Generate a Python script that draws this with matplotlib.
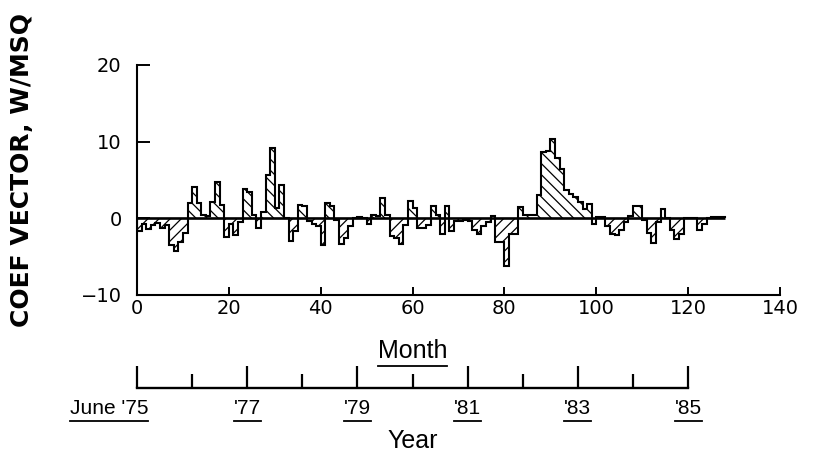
import numpy as np
import matplotlib.pyplot as plt
from matplotlib.lines import Line2D
from matplotlib.transforms import offset_copy

# monthly coefficient values, W/MSQ, month 0 = June '75
coef = [-1.7, -0.8, -1.4, -0.9, -0.6, -1.3, -0.9, -3.5, -4.3, -3.1,
        -1.9, 2.0, 4.1, 2.0, 0.4, 0.3, 2.1, 4.7, 1.8, -2.4,
        -0.7, -2.2, -0.5, 3.8, 3.5, 0.4, -1.3, 0.8, 5.6, 9.2,
        1.3, 4.4, 0.1, -2.9, -1.7, 1.8, 1.6, -0.3, -0.8, -1.0,
        -3.5, 2.0, 1.6, -0.2, -3.3, -2.6, -1.0, 0.1, 0.2, 0.0,
        -0.8, 0.5, 0.3, 2.7, 0.5, -2.3, -2.6, -3.4, -0.9, 2.2,
        1.3, -1.3, -1.3, -0.9, 1.6, 0.5, -2.0, 1.6, -1.6, -0.4,
        -0.3, -0.2, -0.3, -1.5, -2.0, -1.0, -0.5, 0.3, -3.1, -3.1,
        -6.2, -2.0, -2.0, 1.5, 0.5, 0.5, 0.5, 3.0, 8.6, 8.8,
        10.4, 7.9, 6.4, 3.7, 3.2, 2.8, 2.1, 1.2, 1.9, -0.8,
        0.2, 0.2, -1.0, -2.0, -2.2, -1.5, -0.5, 0.3, 1.6, 1.6,
        -0.2, -1.9, -3.2, -0.5, 1.2, 0.0, -1.5, -2.7, -2.0, 0.1,
        0.1, 0.0, -1.5, -0.8, 0.1, 0.2, 0.2, 0.2]

month_ticks = [0, 20, 40, 60, 80, 100, 120, 140]
y_ticks = [-10, 0, 10, 20]
year_major = [0, 24, 48, 72, 96, 120]
year_minor = [12, 36, 60, 84, 108]
year_labels = ["June '75", "'77", "'79", "'81", "'83", "'85"]

vals = np.array(coef)
edges = np.arange(len(vals) + 1)

plt.rcParams['hatch.linewidth'] = 0.9

fig = plt.figure(figsize=(8.17, 4.59), dpi=100)
W, H = 817, 459
ax = fig.add_axes([137 / W, 1 - 295 / H, 643 / W, 230 / H])

# hatched areas: positive one way, negative the other
ax.stairs(np.clip(vals, 0, None), edges, baseline=0, fill=True,
          facecolor='white', edgecolor='black', hatch='\\\\\\', linewidth=0)
ax.stairs(np.clip(vals, None, 0), edges, baseline=0, fill=True,
          facecolor='white', edgecolor='black', hatch='///', linewidth=0)
ax.stairs(vals, edges, baseline=0, fill=False, color='black', linewidth=1.5)
ax.hlines(0, edges[0], edges[-1], color='black', linewidth=1.9)

ax.set_xlim(0, 140)
ax.set_ylim(-10, 20)
ax.set_xticks(month_ticks)
ax.set_yticks(y_ticks)
for s in ['top', 'right']:
    ax.spines[s].set_visible(False)
for s in ['left', 'bottom']:
    ax.spines[s].set_linewidth(1.5)
ax.tick_params(axis='both', direction='in', width=1.4, labelsize=14)
ax.tick_params(axis='x', length=6, pad=3)
ax.tick_params(axis='y', length=9, pad=11)

fig.text(22 / W, 1 - 170 / H, 'COEF VECTOR, W/MSQ', rotation=90,
         ha='center', va='center', fontsize=18, fontweight='bold')

under = []
under.append(ax.text(60, -10, 'Month', transform=offset_copy(ax.transData, fig, y=-40, units='points'),
                     ha='center', va='center', fontsize=18, family='Liberation Sans'))

# year scale under the month axis
ax2 = fig.add_axes([137 / W, 1 - 388 / H, 643 / W, 0.04])
ax2.set_xlim(0, 140)
ax2.set_ylim(0, 1)
ax2.patch.set_visible(False)
for s in ['top', 'right', 'left']:
    ax2.spines[s].set_visible(False)
ax2.spines['bottom'].set_bounds(year_major[0], year_major[-1])
ax2.spines['bottom'].set_linewidth(1.7)
ax2.set_yticks([])
ax2.set_xticks(year_major)
ax2.set_xticks(year_minor, minor=True)
ax2.tick_params(which='major', direction='in', length=16, width=1.6, labelbottom=False)
ax2.tick_params(which='minor', direction='in', length=10, width=1.6)

tr = offset_copy(ax2.get_xaxis_transform(), fig, y=-8, units='points')
for m, lab in zip(year_major, year_labels):
    if m == year_major[0]:
        t = ax2.text(m + 2.4, 0, lab, transform=tr, ha='right', va='top',
                     fontsize=15, family='Liberation Sans')
    else:
        t = ax2.text(m, 0, lab, transform=tr, ha='center', va='top',
                     fontsize=15, family='Liberation Sans')
    under.append(t)

ax2.text(60, 0, 'Year', transform=offset_copy(ax2.get_xaxis_transform(), fig, y=-38, units='points'),
         ha='center', va='center', fontsize=18, family='Liberation Sans')

fig.canvas.draw()
r = fig.canvas.get_renderer()
for t in under:
    bb = t.get_window_extent(r)
    yy = (bb.y0 - 3) / fig.bbox.height
    fig.add_artist(Line2D([bb.x0 / fig.bbox.width, bb.x1 / fig.bbox.width], [yy, yy],
                          transform=fig.transFigure, color='black', linewidth=1.3))

fig.savefig('out.png', dpi=100)
